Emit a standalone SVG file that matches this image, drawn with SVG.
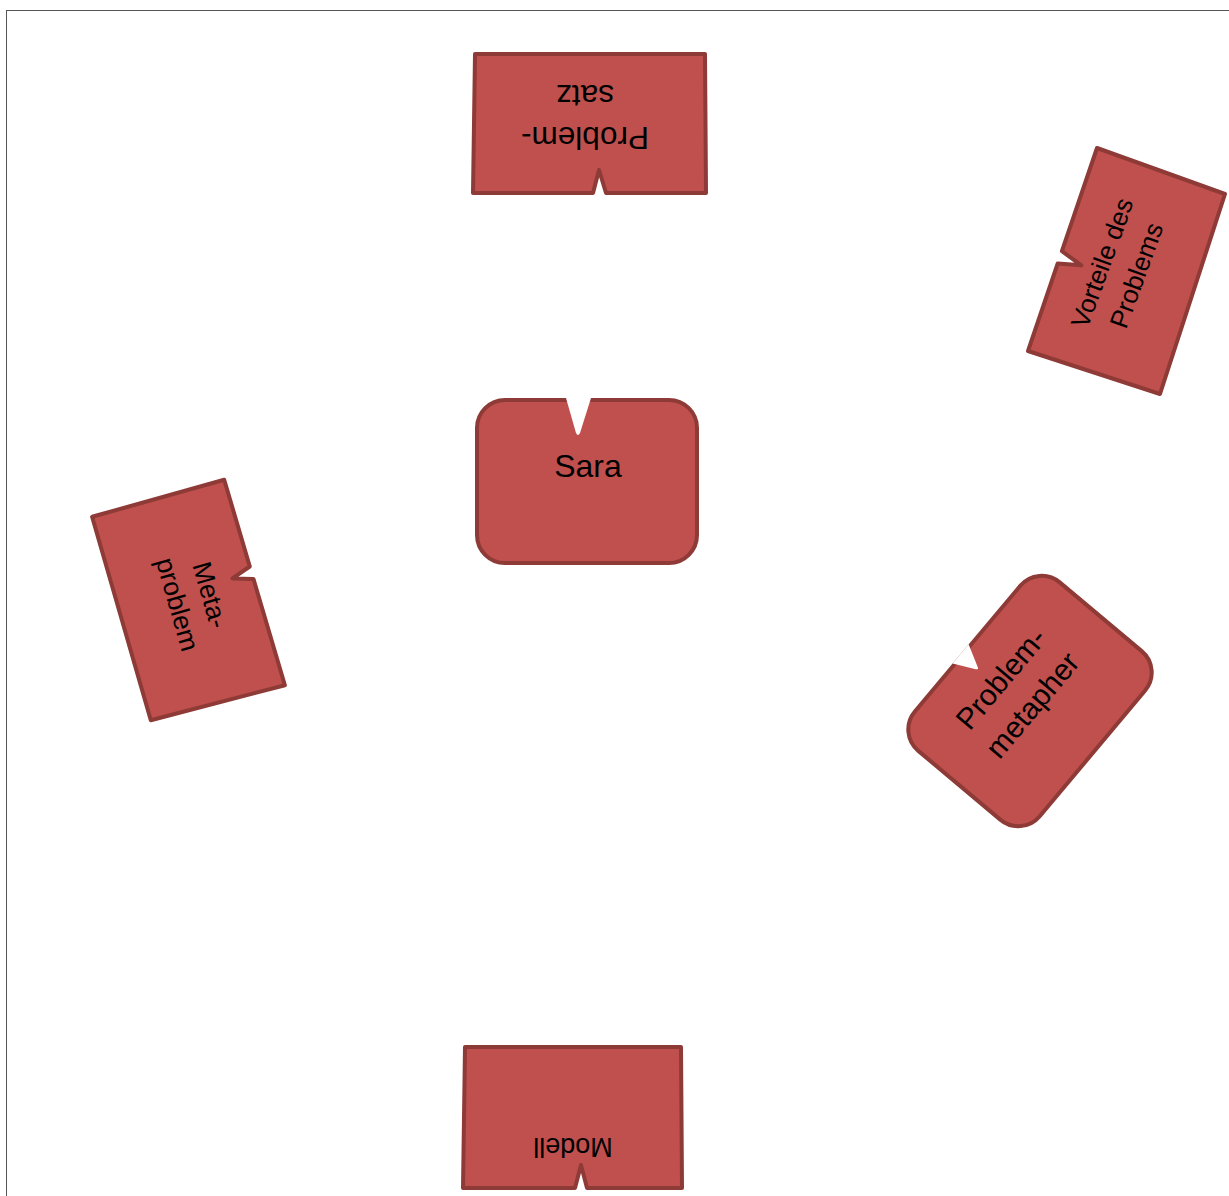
<svg xmlns="http://www.w3.org/2000/svg" width="1229" height="1196" viewBox="0 0 1229 1196">
  <style>
    .shape { fill: #C0504D; stroke: #8E3A37; stroke-width: 4; stroke-linejoin: round; }
    .notch { fill: #FFFFFF; stroke: none; }
    .lbl { font-family: "Liberation Sans", Arial, sans-serif; fill: #000000; text-anchor: middle; }
  </style>
  <rect x="0" y="0" width="1229" height="1196" fill="#FFFFFF"/>
  <rect x="6.5" y="10.5" width="1240" height="1200" fill="none" stroke="#555555" stroke-width="1"/>

  <g id="connectors"></g>

  <g id="node-problemsatz">
    <path class="shape" d="M475,54 L705,54 L706,193 L606,193 L599,170 L593,193 L473,193 Z"/>
    <g transform="translate(585 106) rotate(180)">
      <text class="lbl" x="0" y="-21" font-size="31.5">Problem-</text>
      <text class="lbl" x="0" y="21" font-size="31.5">satz</text>
    </g>
  </g>

  <g id="node-vorteile">
    <path class="shape" d="M1097,148 L1225,194 L1160,394 L1028,351 L1057.7,263.5 L1081.4,265.3 L1061.9,251.2 Z"/>
    <g transform="translate(1119 269) rotate(-70)">
      <text class="lbl" x="0" y="-9" font-size="26">Vorteile des</text>
      <text class="lbl" x="0" y="27.5" font-size="26">Problems</text>
    </g>
  </g>

  <g id="node-sara">
    <rect class="shape" x="477" y="400" width="220" height="163" rx="28" ry="28"/>
    <path class="notch" d="M566,398 L591,398 L580,433 Q578,437 576,433 Z"/>
    <text class="lbl" x="588" y="477" font-size="32">Sara</text>
  </g>

  <g id="node-metaproblem">
    <path class="shape" d="M224.2,479.7 L249.8,566.5 L232.5,578.4 L253.5,579 L284.9,685.2 L150.8,720.3 L92.1,516.8 Z"/>
    <g transform="translate(193 600) rotate(74)">
      <text class="lbl" x="0" y="-9" font-size="26.5">Meta-</text>
      <text class="lbl" x="0" y="25" font-size="26.5">problem</text>
    </g>
  </g>

  <g id="node-problemmetapher">
    <g transform="translate(1030 701) rotate(-50)">
      <rect class="shape" x="-110" y="-81.5" width="220" height="163" rx="28" ry="28"/>
      <path class="notch" d="M-21,-83.5 L4,-83.5 L-7.5,-62 Q-9,-59 -10.5,-62 Z"/>
      <text class="lbl" x="-1.5" y="-26.3" font-size="30">Problem-</text>
      <text class="lbl" x="-1.5" y="14.7" font-size="30">metapher</text>
    </g>
  </g>

  <g id="node-modell">
    <path class="shape" d="M465,1047 L681,1047 L682,1188 L587,1188 L581,1165 L575,1188 L463,1188 Z"/>
    <g transform="translate(573 1138) rotate(180)">
      <text class="lbl" x="0" y="0" font-size="27">Modell</text>
    </g>
  </g>
</svg>
